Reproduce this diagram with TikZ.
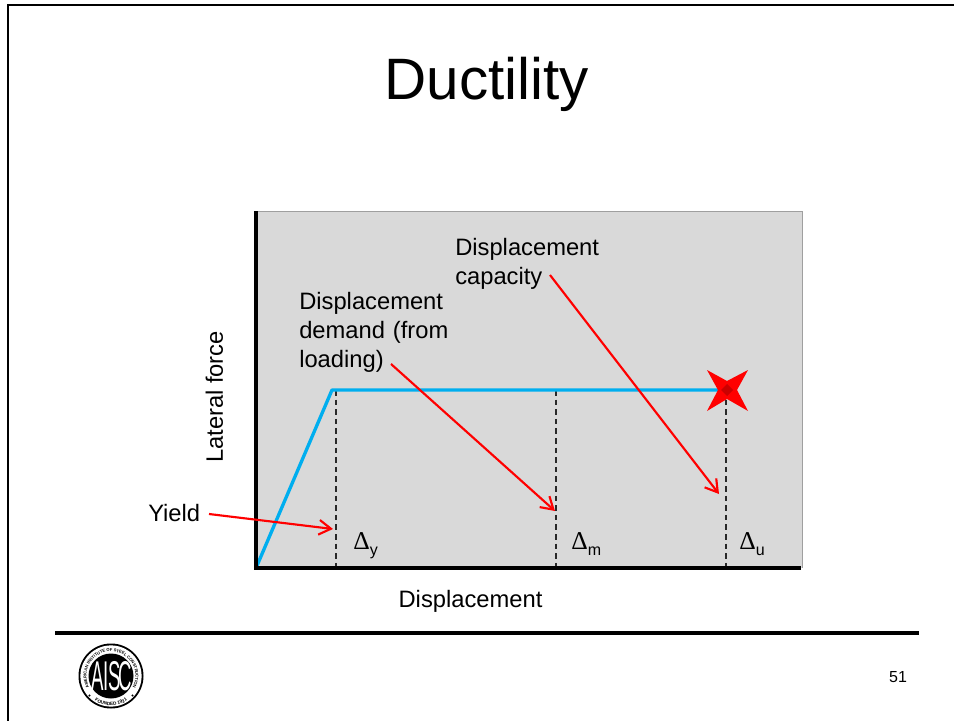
\documentclass[tikz,border=0pt]{standalone}
\usepackage{fontspec}
\setmainfont{Liberation Sans}
\newfontfamily\deltafont{Liberation Serif}
\usetikzlibrary{arrows.meta,decorations.text}
\definecolor{panel}{RGB}{217,217,217}
\definecolor{curve}{RGB}{0,174,239}
\definecolor{dashc}{RGB}{40,40,40}
\tikzset{
  lbl/.style={inner sep=0pt,align=left,font=\fontsize{17.8}{21.7}\selectfont},
  sym/.style={inner sep=0pt,anchor=base west,font=\fontsize{17.8}{22}\selectfont},
  pointer/.style={draw=red,line width=1.6pt,-{Straight Barb[length=9pt,width=11pt,line width=1.6pt]}},
  dropline/.style={draw=dashc,line width=0.9pt,dash pattern=on 4.2pt off 3pt},
  axisline/.style={draw=black,line width=2.4pt},
  rule/.style={draw=black,line width=3pt},
  forcecurve/.style={draw=curve,line width=2.5pt,line join=round},
  logoletter/.style={inner sep=0pt,text=white,font=\fontsize{24}{24}\selectfont}
}
\newcommand{\Dl}[1]{\scalebox{1.08}{\deltafont Δ}\raisebox{-5pt}{\fontsize{12}{14}\selectfont #1}}
\newcommand{\Lg}[1]{\scalebox{.58}[1.3]{#1}}
\begin{document}
\begin{tikzpicture}[x=0.75pt,y=-0.75pt]
\useasboundingbox (0,0) rectangle (954,721);
\fill[white] (0,0) rectangle (954,721);
% slide frame
\draw[black,line width=2.2pt] (8,721) -- (8,5) -- (954,5);
\node[inner sep=0pt,font=\fontsize{43.8}{50}\selectfont] (title) at (487,84) {Ductility};
% panel
\fill[panel] (256,211) rectangle (802,568);
\draw[gray!75,line width=0.6pt] (256,211) -- (802,211) -- (802,568);
% key points
\coordinate (origin) at (256,568);
\coordinate (top) at (256,211);
\coordinate (xend) at (801,568);
\coordinate (yieldpt) at (332,390);
\coordinate (ultpt) at (726,390);
\coordinate (yfoot) at (336,568);
\coordinate (ytop) at (336,390);
\coordinate (mfoot) at (556,568);
\coordinate (mtop) at (556,390);
\coordinate (ufoot) at (726,568);
\coordinate (utop) at (726,390);
% drop lines
\draw[dropline] (ytop) -- (yfoot);
\draw[dropline] (mtop) -- (mfoot);
\draw[dropline] (utop) -- (ufoot);
% curve
\draw[forcecurve] (origin) -- (yieldpt) -- (ultpt);
% axes
\draw[axisline] (top) -- (origin) -- (xend);
% star
\fill[red] (707,370) -- (727,381) -- (748,370) -- (737,390) -- (748,411) -- (727,399) -- (707,411) -- (718,390) -- cycle;
\fill[red!75!black,opacity=.8] (727,384) -- (733,390) -- (727,396) -- (721,390) -- cycle;
% labels
\node[lbl,anchor=north west] (cap) at (455,238) {Displacement\\capacity};
\node[lbl,anchor=north west,text width=160pt] (dem) at (299,292) {Displacement\\demand (from\\loading)};
\node[lbl,anchor=base west] (yl) at (148,521) {Yield};
\node[lbl,rotate=90,anchor=center] (lf) at (214.5,397) {Lateral force};
\node[lbl] (dx) at (470.5,601) {Displacement};
\node[sym] (dy) at (353,549) {\Dl{y}};
\node[sym] (dm) at (571,549) {\Dl{m}};
\node[sym] (du) at (739,549) {\Dl{u}};
% pointers
\coordinate (capS) at (550,275);
\coordinate (capE) at (719,494);
\coordinate (demS) at (391,364);
\coordinate (demE) at (555,511);
\coordinate (yS) at (209,514);
\coordinate (yE) at (333,529);
\draw[pointer] (capS) -- (capE);
\draw[pointer] (demS) -- (demE);
\draw[pointer] (yS) -- (yE);
% bottom rule
\coordinate (ruleL) at (55,633);
\coordinate (ruleR) at (919,633);
\draw[rule] (ruleL) -- (ruleR);
\node[inner sep=0pt,font=\fontsize{12}{14}\selectfont] (pg) at (898,677) {51};
% AISC logo
\begin{scope}[shift={(111,676)},x=0.75pt,y=0.75pt]
\fill[black] (0,0) circle (32.5);
\fill[white] (0,0) circle (30.6);
\fill[black] (0,0) circle (22.5);
\node[logoletter] (logoA) at (-13.5,0) {\Lg{A}};
\node[logoletter] (logoI) at (-4.5,0) {\Lg{I}};
\node[logoletter] (logoS) at (4,0) {\Lg{S}};
\node[logoletter] (logoC) at (14,0) {\Lg{C}};
\path[postaction={decorate,decoration={text along path,text align=center,
  text={|\fontsize{3.1}{4}\selectfont\bfseries|AMERICAN INSTITUTE OF STEEL CONSTRUCTION}}}]
  (205:24.5) arc[start angle=205,end angle=-25,radius=24.5];
\path[postaction={decorate,decoration={text along path,text align=center,
  text={|\fontsize{3.5}{4}\selectfont\bfseries|FOUNDED 1921}}}]
  (226:29.5) arc[start angle=226,end angle=314,radius=29.5];
\fill[black] (-21.5,-19.5) circle (1.2);
\fill[black] (21.5,-19.5) circle (1.2);
\end{scope}
\end{tikzpicture}
\end{document}
